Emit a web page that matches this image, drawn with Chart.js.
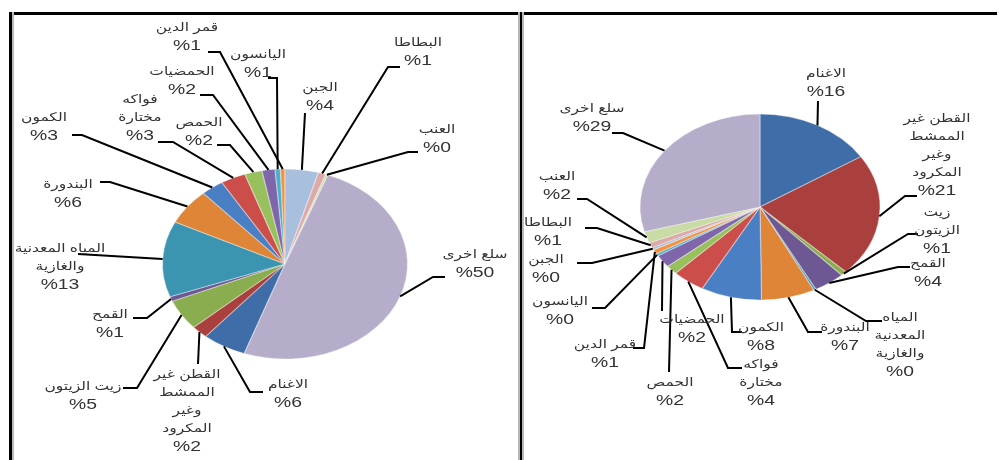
<!DOCTYPE html>
<html>
<head>
<meta charset="utf-8">
<script src="https://cdn.jsdelivr.net/npm/chart.js@4.4.0/dist/chart.umd.min.js"></script>
<style>
  html, body { margin: 0; padding: 0; background: #ffffff; }
  #stage { position: relative; width: 999px; height: 460px; overflow: hidden; background: #ffffff; }
  .layer { position: absolute; left: 0; top: 0; }
  .frame-top { position: absolute; left: 9px; top: 12px; width: 988px; height: 3px; background: #000; }
  .frame-left { position: absolute; left: 9px; top: 12px; width: 3px; height: 448px; background: #000; border-right: 2px solid #b8b8b8; }
  .frame-mid { position: absolute; left: 518px; top: 12px; width: 2px; height: 448px; background: #000; border-left: 2px solid #b8b8b8; border-right: 2px solid #b8b8b8; }
</style>
</head>
<body>
<div id="stage">
  <canvas id="leftPie" class="layer" width="999" height="460"></canvas>
  <canvas id="rightPie" class="layer" width="999" height="460"></canvas>
  <div class="frame-top"></div>
  <div class="frame-left"></div>
  <div class="frame-mid"></div>
</div>
<script>
// Commodity groups, in slice order (clockwise)
const categories = [
  'الاغنام', 'القطن غير الممشط وغير المكرود', 'زيت الزيتون', 'القمح',
  'المياه المعدنية والغازية', 'البندورة', 'الكمون', 'فواكه مختارة',
  'الحمص', 'الحمضيات', 'اليانسون', 'قمر الدين',
  'الجبن', 'البطاطا', 'العنب', 'سلع اخرى'
];
// Shares in percent
const sharesLeft  = [5.8, 2.2, 5.2, 0.8, 12.9, 6.1, 3.0, 3.3, 2.3, 1.7, 0.7, 0.6, 4.4, 1.0, 0.3, 49.7];
const sharesRight = [15.9, 21.4, 0.8, 4.2, 0.3, 7.2, 8.2, 4.4, 1.6, 2.2, 0.4, 0.8, 0.4, 0.9, 2.0, 29.3];
// Slice placed at 12 o'clock in the left pie
const leftTopIndex = 12;

const sliceColors = [
  '#3f6da8', '#a9403d', '#8aae4f', '#6e5893', '#3b95b0', '#de8537',
  '#4a7fc4', '#cb4e4b', '#98c05c', '#7f66aa', '#4bb0cc', '#f29445',
  '#a9bfde', '#dcaaa8', '#cadca6', '#b6adcb'
];

// Label placement (text centre, first line) and leader-line bends, page pixels
const leftLabels = [
  { x: 288, y: 385, path: [[263, 392], [250, 392]] },
  { x: 187, y: 375, path: [[198, 364]], breaks: [2, 1, 1, 1] },
  { x: 83,  y: 387, path: [[123, 388], [137, 388]] },
  { x: 110, y: 315, path: [[133, 318], [147, 318]] },
  { x: 60,  y: 249, path: [[78, 254]], breaks: [2, 1] },
  { x: 68,  y: 185, path: [[100, 182], [110, 182]] },
  { x: 44,  y: 118, path: [[72, 135], [82, 135]] },
  { x: 140, y: 100, path: [[158, 142], [173, 142]], breaks: [1, 1] },
  { x: 199, y: 123, path: [[217, 145], [230, 145]] },
  { x: 182, y: 72,  path: [[200, 95], [213, 95]] },
  { x: 258, y: 55,  path: [[268, 78], [277, 78]] },
  { x: 187, y: 28,  path: [[208, 52], [220, 52]] },
  { x: 320, y: 88,  path: [[305, 113]] },
  { x: 418, y: 43,  path: [[400, 67], [388, 67]] },
  { x: 437, y: 130, path: [[418, 152], [408, 152]] },
  { x: 475, y: 255, path: [[445, 277], [433, 277]] }
];
const rightLabels = [
  { x: 826, y: 74,  path: [[818, 101]] },
  { x: 937, y: 119, path: [[917, 196], [905, 196]], breaks: [2, 1, 1, 1] },
  { x: 937, y: 213, path: [[918, 234], [908, 234]], breaks: [1, 1] },
  { x: 928, y: 264, path: [[910, 267], [898, 267]] },
  { x: 900, y: 318, path: [[882, 321], [866, 321]], breaks: [1, 1, 1] },
  { x: 845, y: 328, path: [[822, 332], [808, 332]] },
  { x: 761, y: 328, path: [[742, 332], [732, 332]] },
  { x: 761, y: 365, path: [[742, 368], [728, 368]], breaks: [1, 1] },
  { x: 670, y: 383, path: [[669, 372]] },
  { x: 692, y: 320, path: [[662, 311]] },
  { x: 560, y: 302, path: [[592, 308], [605, 308]] },
  { x: 605, y: 345, path: [[633, 348], [644, 348]] },
  { x: 546, y: 260, path: [[577, 263], [592, 263]] },
  { x: 548, y: 223, path: [[585, 228], [597, 228]] },
  { x: 557, y: 177, path: [[577, 199], [587, 199]] },
  { x: 592, y: 109, path: [[612, 133], [623, 133]] }
];

const STRETCH = 1.29;      // horizontal stretch of pie and text
const LINE_H = 18;
const NAME_FONT = "12px 'Liberation Sans', Arial, 'DejaVu Sans', sans-serif";
const PCT_FONT = "15px 'Liberation Sans', Arial, 'DejaVu Sans', sans-serif";

function wrapName(name, breaks) {
  const words = name.split(' ');
  if (!breaks) return [words.join(' ')];
  const out = [];
  let p = 0;
  breaks.forEach(n => { out.push(words.slice(p, p + n).join(' ')); p += n; });
  if (p < words.length) out.push(words.slice(p).join(' '));
  return out;
}

const ellipseLabels = {
  id: 'ellipseLabels',
  beforeDatasetsDraw(chart) {
    const arc = chart.getDatasetMeta(0).data[0];
    const { x, y } = arc.getProps(['x', 'y'], true);
    const ctx = chart.ctx;
    ctx.save();
    ctx.translate(x, y);
    ctx.scale(STRETCH, 1);
    ctx.translate(-x, -y);
  },
  afterDatasetsDraw(chart, args, opts) {
    const ctx = chart.ctx;
    ctx.restore();
    const values = chart.data.datasets[0].data;
    const layout = opts.layout;
    chart.getDatasetMeta(0).data.forEach((arc, i) => {
      const p = arc.getProps(['x', 'y', 'startAngle', 'endAngle', 'outerRadius'], true);
      const mid = (p.startAngle + p.endAngle) / 2;
      const ax = p.x + STRETCH * p.outerRadius * Math.cos(mid);
      const ay = p.y + p.outerRadius * Math.sin(mid);
      const lay = layout[i];
      ctx.save();
      ctx.strokeStyle = '#000';
      ctx.lineWidth = 2;
      ctx.beginPath();
      ctx.moveTo(lay.path[0][0], lay.path[0][1]);
      for (let k = 1; k < lay.path.length; k++) ctx.lineTo(lay.path[k][0], lay.path[k][1]);
      ctx.lineTo(ax, ay);
      ctx.stroke();
      const lines = wrapName(chart.data.labels[i], lay.breaks);
      lines.push('%' + Math.round(values[i]));
      ctx.fillStyle = '#333333';
      ctx.textAlign = 'center';
      ctx.textBaseline = 'middle';
      lines.forEach((t, j) => {
        ctx.save();
        ctx.font = j === lines.length - 1 ? PCT_FONT : NAME_FONT;
        ctx.translate(lay.x, lay.y + j * LINE_H);
        ctx.scale(STRETCH, 1);
        ctx.fillText(t, 0, 0);
        ctx.restore();
      });
      ctx.restore();
    });
  }
};

function makePie(id, shares, rotation, cx, cy, r, layout) {
  const side = 2 * r + 1;
  new Chart(document.getElementById(id), {
    type: 'pie',
    data: {
      labels: categories,
      datasets: [{
        data: shares,
        backgroundColor: sliceColors,
        borderColor: 'rgba(255,255,255,0.35)',
        borderWidth: 1,
        hoverOffset: 0,
        clip: false
      }]
    },
    options: {
      responsive: false,
      animation: false,
      events: [],
      rotation: rotation,
      layout: {
        padding: {
          left: cx - side / 2,
          right: 999 - (cx + side / 2),
          top: cy - side / 2,
          bottom: 460 - (cy + side / 2)
        }
      },
      plugins: {
        legend: { display: false },
        tooltip: { enabled: false },
        ellipseLabels: { layout: layout }
      }
    },
    plugins: [ellipseLabels]
  });
}

const totalLeft = sharesLeft.reduce((a, b) => a + b, 0);
const beforeTop = sharesLeft.slice(0, leftTopIndex).reduce((a, b) => a + b, 0);
makePie('leftPie', sharesLeft, -360 * beforeTop / totalLeft, 285, 264, 95, leftLabels);
makePie('rightPie', sharesRight, 0, 760, 207, 93, rightLabels);
</script>
</body>
</html>
